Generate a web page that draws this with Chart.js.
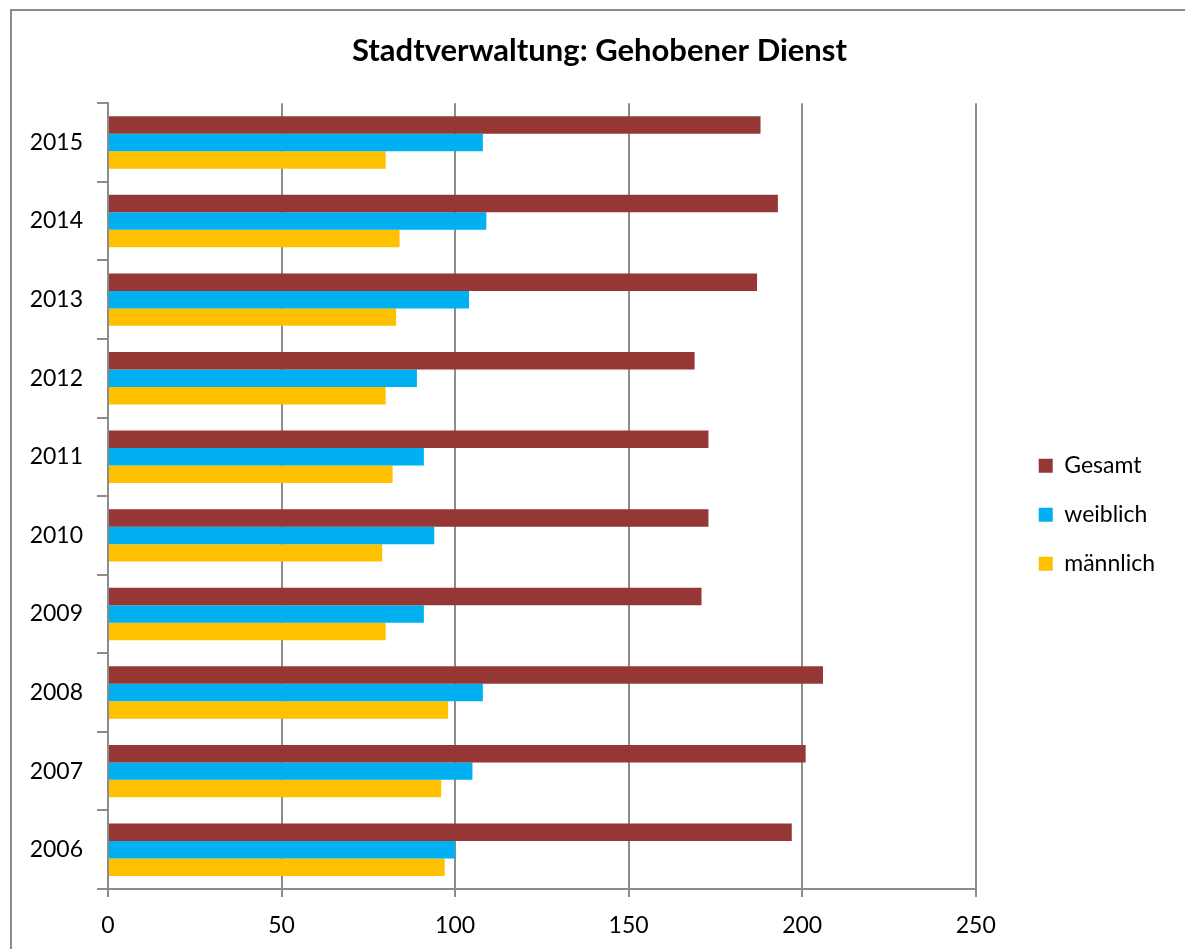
<!DOCTYPE html>
<html>
<head>
<meta charset="utf-8">
<title>Stadtverwaltung: Gehobener Dienst</title>
<script src="https://cdn.jsdelivr.net/npm/chart.js"></script>
<style>
  html, body { margin: 0; padding: 0; background: #fff; overflow: hidden; }
  /* grey frame of the chart object, open to the right and bottom */
  #rahmen { position: absolute; left: 10px; top: 9px; width: 1300px; height: 1100px;
            border-left: 2px solid #8c8c8c; border-top: 2px solid #8c8c8c; }
  #chart { position: absolute; left: 0; top: 0; }
</style>
</head>
<body>
<div id="rahmen"></div>
<canvas id="chart" width="1185" height="949"></canvas>
<script>
const jahre = ['2006', '2007', '2008', '2009', '2010', '2011', '2012', '2013', '2014', '2015'];
const gesamt = [197, 201, 206, 171, 173, 173, 169, 187, 193, 188];
const weiblich = [100, 105, 108, 91, 94, 91, 89, 104, 109, 108];
const maennlich = [97, 96, 98, 80, 79, 82, 80, 83, 84, 80];
const xTicks = [0, 50, 100, 150, 200, 250];

const grau = '#8c8c8c';
const schrift = 'Lato, "Open Sans", sans-serif';

// Titel etwas nach rechts, über die Mitte von Diagramm + Legende
const titelVersatz = {
  id: 'titelVersatz',
  afterLayout(chart) {
    if (chart.titleBlock) chart.titleBlock.left += 22;
  }
};

new Chart('chart', {
  type: 'bar',
  data: {
    labels: jahre,
    datasets: [
      { label: 'Gesamt', data: gesamt, backgroundColor: '#953735' },
      { label: 'weiblich', data: weiblich, backgroundColor: '#00B0F0' },
      { label: 'männlich', data: maennlich, backgroundColor: '#FFC000' }
    ]
  },
  plugins: [titelVersatz],
  options: {
    indexAxis: 'y',
    responsive: false,
    animation: false,
    datasets: { bar: { categoryPercentage: 0.667, barPercentage: 1.0 } },
    layout: { padding: { left: 12, top: 10, right: 20, bottom: 0 } },
    scales: {
      x: {
        min: 0,
        max: 250,
        afterBuildTicks: s => { s.ticks = xTicks.map(v => ({ value: v })); },
        afterFit: s => { s.height = 60; },
        ticks: { color: '#000', font: { family: schrift, size: 23 }, padding: 15, maxRotation: 0 },
        grid: { color: grau, lineWidth: 2, tickLength: 8, tickColor: grau },
        border: { color: grau, width: 2 }
      },
      y: {
        reverse: true,
        afterFit: s => { s.width = 96; },
        ticks: { color: '#000', font: { family: schrift, size: 23 }, padding: 14 },
        grid: { drawOnChartArea: false, offset: true, tickLength: 11, color: grau, lineWidth: 2 },
        border: { color: grau, width: 2 }
      },
      // leerer Abstand zwischen Zeichenfläche und Legende
      abstand: {
        type: 'linear',
        axis: 'y',
        position: 'right',
        afterFit: s => { s.width = 37; },
        ticks: { display: false },
        grid: { display: false },
        border: { display: false }
      }
    },
    plugins: {
      title: {
        display: true,
        text: 'Stadtverwaltung: Gehobener Dienst',
        color: '#000',
        font: { family: schrift, size: 31, weight: 'bold' },
        padding: { top: 22, bottom: 34 }
      },
      legend: {
        position: 'right',
        fullSize: false,
        title: { display: true, text: '', font: { size: 1 }, padding: { top: 0, bottom: 36 } },
        labels: {
          color: '#000',
          font: { family: schrift, size: 23 },
          boxWidth: 14,
          boxHeight: 14,
          padding: 26
        }
      },
      tooltip: { enabled: false }
    }
  }
});
</script>
</body>
</html>
